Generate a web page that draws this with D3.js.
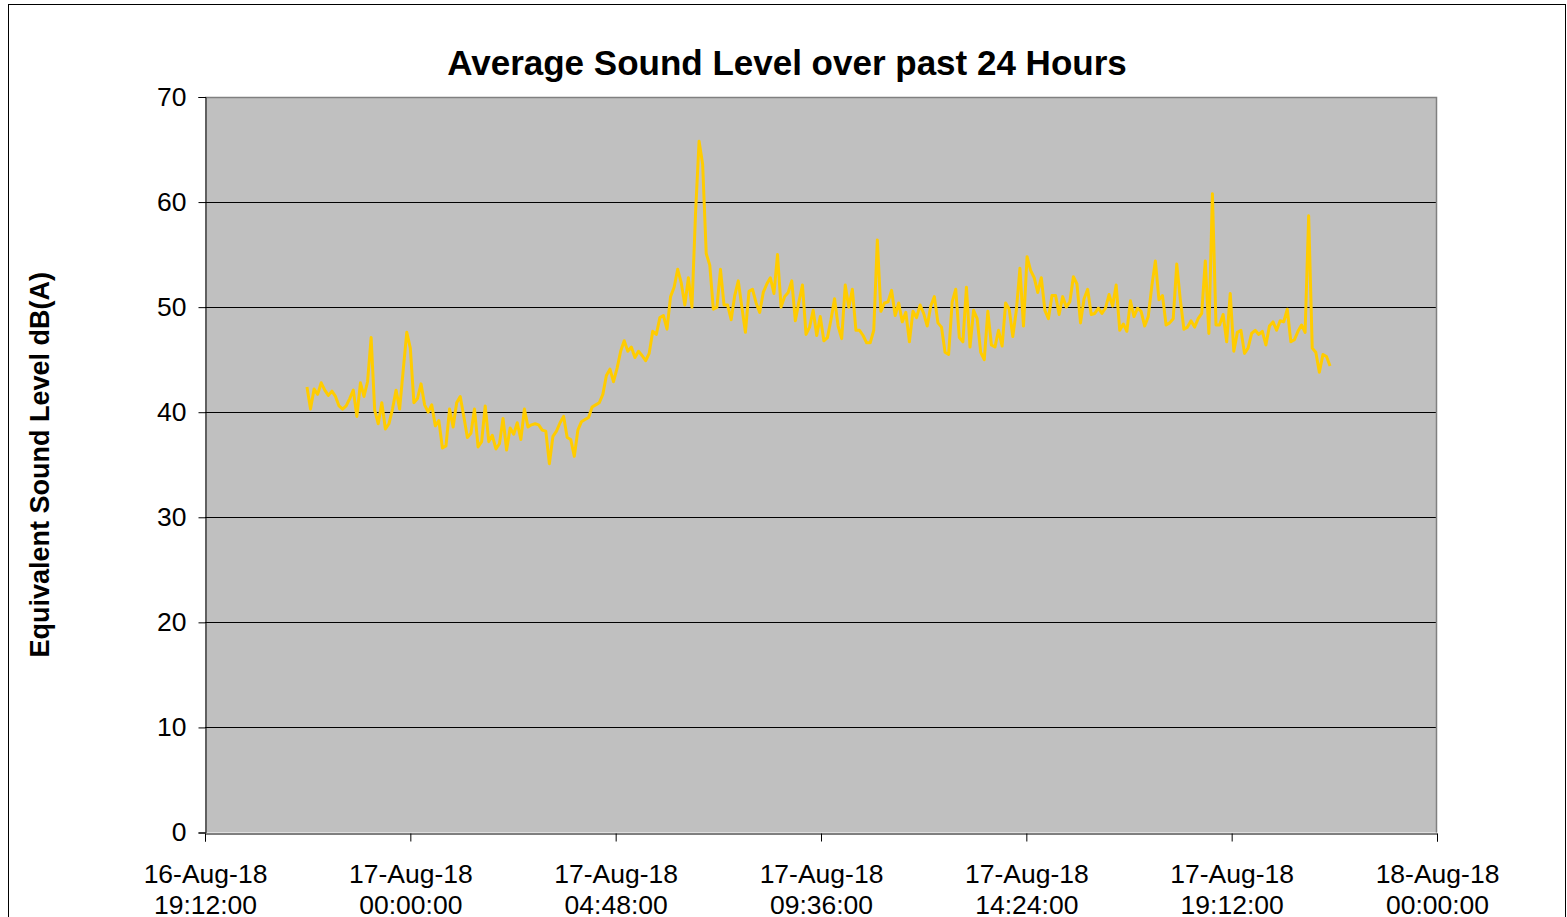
<!DOCTYPE html>
<html lang="en">
<head>
<meta charset="UTF-8">
<title>Average Sound Level over past 24 Hours</title>
<script src="https://cdnjs.cloudflare.com/ajax/libs/d3/7.8.5/d3.min.js"></script>
<style>
  * { margin: 0; padding: 0; }
  body { background: #fff; font-family: Arial, "Liberation Sans", sans-serif; }
  #chart { display: block; }
  .tick-label { font-size: 26.5px; fill: #000; }
  .title { font-size: 35px; font-weight: bold; }
  .ylabel { font-size: 27px; font-weight: bold; }
</style>
</head>
<body>
<svg id="chart" width="1567" height="917"></svg>
<script>
// readings every 5 minutes, first one at 21:35 on 16-Aug-18
var startTime = new Date(2018, 7, 16, 21, 35, 0);
var stepMinutes = 5;

var levels = [
  42.4, 40.3, 42.2, 41.7, 42.8, 42.1, 41.6, 42.0, 41.5, 40.6,
  40.3, 40.6, 41.3, 42.1, 39.6, 42.8, 41.5, 42.9, 47.1, 40.2,
  38.9, 40.9, 38.4, 38.9, 40.3, 42.1, 40.3, 44.0, 47.6, 46.1,
  40.9, 41.3, 42.7, 40.7, 40.0, 40.7, 38.7, 39.2, 36.6, 36.8,
  40.3, 38.6, 40.9, 41.5, 39.6, 37.6, 38.0, 40.3, 36.7, 37.2,
  40.6, 37.2, 37.8, 36.5, 37.0, 39.4, 36.4, 38.5, 37.9, 39.0,
  37.4, 40.3, 38.6, 38.8, 38.9, 38.8, 38.3, 38.2, 35.1, 37.7,
  38.2, 39.0, 39.6, 37.6, 37.4, 35.8, 38.3, 39.1, 39.3, 39.5,
  40.5, 40.7, 40.9, 41.7, 43.5, 44.1, 42.9, 44.2, 45.8, 46.8,
  45.8, 46.2, 45.2, 45.8, 45.4, 44.9, 45.6, 47.7, 47.4, 49.0,
  49.2, 47.9, 51.0, 51.9, 53.6, 52.3, 50.2, 52.8, 50.0, 58.9,
  65.8, 63.6, 55.1, 54.0, 49.8, 50.0, 53.6, 50.2, 50.2, 48.8,
  51.1, 52.5, 50.0, 47.6, 51.5, 51.7, 50.4, 49.5, 51.4, 52.2,
  52.8, 51.3, 55.0, 50.0, 51.0, 51.4, 52.5, 48.7, 50.5, 52.1,
  47.4, 48.1, 49.7, 47.3, 49.1, 46.8, 47.1, 48.8, 50.8, 48.2,
  47.0, 52.1, 50.0, 51.7, 47.8, 47.8, 47.3, 46.6, 46.6, 47.8,
  56.4, 49.6, 50.4, 50.5, 51.6, 49.2, 50.4, 48.6, 49.5, 46.7,
  49.6, 49.0, 50.2, 49.4, 48.2, 50.1, 51.0, 48.5, 48.1, 45.7,
  45.5, 50.5, 51.7, 47.1, 46.7, 51.9, 46.2, 49.7, 48.9, 45.7,
  45.0, 49.6, 46.4, 46.2, 47.8, 46.3, 50.4, 49.8, 47.2, 49.7,
  53.7, 48.2, 54.8, 53.5, 52.8, 51.4, 52.8, 49.7, 48.9, 51.1,
  51.1, 49.3, 51.0, 50.0, 50.5, 52.9, 52.2, 48.5, 50.8, 51.7,
  49.3, 49.4, 49.9, 49.4, 49.9, 51.2, 50.1, 52.1, 47.8, 48.4,
  47.7, 50.6, 49.1, 49.9, 49.6, 48.2, 49.1, 52.0, 54.4, 50.7,
  51.1, 48.3, 48.5, 48.9, 54.1, 50.7, 47.9, 48.1, 48.7, 48.1,
  48.9, 49.4, 54.4, 47.5, 60.8, 48.3, 48.3, 49.3, 46.7, 51.3,
  45.8, 47.6, 47.8, 45.6, 46.1, 47.5, 47.8, 47.4, 47.7, 46.4,
  48.2, 48.6, 47.8, 48.7, 48.6, 49.8, 46.7, 46.9, 47.7, 48.3,
  47.6, 58.7, 46.1, 45.7, 43.8, 45.5, 45.3, 44.4
];

var xDomain = [new Date(2018, 7, 16, 19, 12, 0), new Date(2018, 7, 18, 0, 0, 0)];
var xTickDates = [
  new Date(2018, 7, 16, 19, 12, 0),
  new Date(2018, 7, 17, 0, 0, 0),
  new Date(2018, 7, 17, 4, 48, 0),
  new Date(2018, 7, 17, 9, 36, 0),
  new Date(2018, 7, 17, 14, 24, 0),
  new Date(2018, 7, 17, 19, 12, 0),
  new Date(2018, 7, 18, 0, 0, 0)
];
var yTicks = [0, 10, 20, 30, 40, 50, 60, 70];

(function() {
  var plotLeft = 205, plotRight = 1437, plotTop = 97, plotBottom = 832.5;

  var svg = d3.select('#chart');

  // outer frame
  svg.append('rect')
    .attr('x', 8.5).attr('y', 4.5)
    .attr('width', 1557).attr('height', 930)
    .attr('fill', '#fff').attr('stroke', '#000').attr('stroke-width', 1);

  var x = d3.scaleTime().domain(xDomain).range([plotLeft, plotRight]);
  var y = d3.scaleLinear().domain([0, 70]).range([plotBottom, plotTop]);

  // plot area
  svg.append('rect')
    .attr('x', plotLeft).attr('y', plotTop)
    .attr('width', plotRight - plotLeft).attr('height', plotBottom - plotTop)
    .attr('fill', '#c0c0c0');

  // gridlines
  svg.append('g')
    .selectAll('line')
    .data(yTicks.filter(function(d) { return d > 0 && d < 70; }))
    .enter().append('line')
    .attr('x1', plotLeft).attr('x2', plotRight)
    .attr('y1', function(d) { return Math.round(y(d)) + 0.5; })
    .attr('y2', function(d) { return Math.round(y(d)) + 0.5; })
    .attr('stroke', '#000').attr('stroke-width', 1);

  // grey border on top and right
  svg.append('path')
    .attr('d', 'M' + plotLeft + ',' + (plotTop + 0.5) + 'H' + (plotRight - 0.5) + 'V' + plotBottom)
    .attr('fill', 'none').attr('stroke', '#808080').attr('stroke-width', 1.5);

  // the series
  var points = levels.map(function(v, i) {
    return { t: new Date(startTime.getTime() + i * stepMinutes * 60000), v: v };
  });
  var line = d3.line()
    .x(function(d) { return x(d.t); })
    .y(function(d) { return y(d.v); });
  svg.append('path')
    .datum(points)
    .attr('d', line)
    .attr('fill', 'none')
    .attr('stroke', '#ffcc00')
    .attr('stroke-width', 3)
    .attr('stroke-linejoin', 'round');

  // y axis
  var yAxis = d3.axisLeft(y).tickValues(yTicks).tickSize(7).tickPadding(12);
  var yg = svg.append('g')
    .attr('transform', 'translate(' + (plotLeft + 0.5) + ',0)')
    .call(yAxis);
  yg.selectAll('text').attr('class', 'tick-label').attr('font-family', 'Arial, Liberation Sans, sans-serif');
  yg.selectAll('line, path').attr('stroke', '#000');

  // x axis
  var xAxis = d3.axisBottom(x).tickValues(xTickDates).tickSize(8).tickFormat('');
  var xg = svg.append('g')
    .attr('transform', 'translate(0,' + (Math.round(plotBottom) + 0.5) + ')')
    .call(xAxis);
  xg.selectAll('line, path').attr('stroke', '#000');
  var dayFmt = d3.timeFormat('%d-%b-%y');
  var timeFmt = d3.timeFormat('%H:%M:%S');
  xg.selectAll('.tick').each(function(d) {
    var t = d3.select(this).append('text')
      .attr('class', 'tick-label')
      .attr('text-anchor', 'middle')
      .attr('font-family', 'Arial, Liberation Sans, sans-serif');
    t.append('tspan').attr('x', 0).attr('y', 49).text(dayFmt(d));
    t.append('tspan').attr('x', 0).attr('y', 80).text(timeFmt(d));
  });

  // titles
  svg.append('text')
    .attr('class', 'title')
    .attr('x', 787).attr('y', 75)
    .attr('text-anchor', 'middle')
    .text('Average Sound Level over past 24 Hours');

  svg.append('text')
    .attr('class', 'ylabel')
    .attr('transform', 'translate(49,' + ((plotTop + plotBottom) / 2) + ') rotate(-90)')
    .attr('text-anchor', 'middle')
    .text('Equivalent Sound Level dB(A)');
})();
</script>
</body>
</html>
